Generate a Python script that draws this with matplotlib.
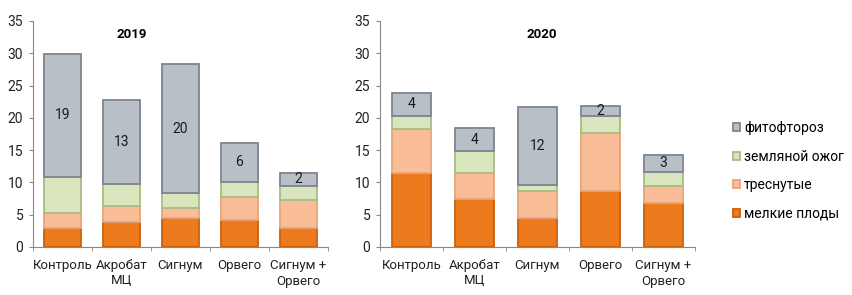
import matplotlib
matplotlib.use("Agg")
import matplotlib.pyplot as plt
import numpy as np

plt.rcParams['font.family'] = ['Roboto', 'DejaVu Sans']

categories = ["Контроль", "Акробат\nМЦ", "Сигнум", "Орвего", "Сигнум +\nОрвего"]
series_names = ["мелкие плоды", "треснутые", "земляной ожог", "фитофтороз"]

# 2019
small_2019 = [3.0, 3.8, 4.5, 4.2, 3.0]
cracked_2019 = [2.3, 2.5, 1.5, 3.6, 4.3]
burn_2019 = [5.6, 3.4, 2.3, 2.3, 2.2]
phyto_2019 = [19, 13, 20, 6, 2]

# 2020
small_2020 = [11.5, 7.4, 4.5, 8.6, 6.8]
cracked_2020 = [6.8, 4.1, 4.1, 9.1, 2.7]
burn_2020 = [2.0, 3.3, 1.0, 2.6, 2.1]
phyto_2020 = [3.6, 3.6, 12.1, 1.5, 2.7]

faces = ["#EE7A1E", "#F9BE98", "#D9E6BD", "#B9BFC7"]
edges = ["#C8600F", "#E8A57A", "#A9BC84", "#7E858E"]

fig = plt.figure(figsize=(8.53, 2.95), dpi=100)
W, H = 853, 295

def make_ax(x0, x1, y0, y1):
    return fig.add_axes([x0 / W, 1 - y1 / H, (x1 - x0) / W, (y1 - y0) / H])

ax1 = make_ax(33, 328, 21, 247)
ax2 = make_ax(380, 695, 21, 247)

def draw(ax, data, title, width, title_x):
    x = np.arange(len(categories))
    bottom = np.zeros(len(categories))
    for i, vals in enumerate(data):
        vals = np.array(vals, dtype=float)
        bars = ax.bar(x, vals, width, bottom=bottom, color=faces[i],
                      edgecolor=edges[i], linewidth=1.3, label=series_names[i], zorder=3)
        if i == 3:
            for b, v in zip(bars, vals):
                ax.text(b.get_x() + b.get_width() / 2, b.get_y() + b.get_height() / 2,
                        f"{v:.0f}", ha='center', va='center', fontsize=10, color='#1a1a1a', zorder=4)
        bottom += vals
    ax.set_xlim(-0.5, len(categories) - 0.5)
    ax.set_ylim(0, 35)
    ax.set_yticks(range(0, 36, 5))
    ax.set_xticks(x)
    ax.set_xticklabels(categories, fontsize=9.5, linespacing=1.2, color='#222222')
    ax.tick_params(axis='y', labelsize=10, length=3, color='#888888', pad=4, labelcolor='#222222')
    ax.tick_params(axis='x', length=0, pad=9)
    ax.set_xticks(np.arange(-0.5, len(categories)), minor=True)
    ax.tick_params(axis='x', which='minor', length=3, color='#888888')
    for s in ['top', 'right']:
        ax.spines[s].set_visible(False)
    for s in ['left', 'bottom']:
        ax.spines[s].set_color('#888888')
    ax.text(title_x, 0.94, title, transform=ax.transAxes,
            ha='center', va='center', fontsize=9.5, fontweight='bold')

draw(ax1, [small_2019, cracked_2019, burn_2019, phyto_2019], "2019", 0.62, 0.335)
draw(ax2, [small_2020, cracked_2020, burn_2020, phyto_2020], "2020", 0.61, 0.514)

handles, labels = ax2.get_legend_handles_labels()
fig.legend(handles[::-1], labels[::-1], loc='center left',
           bbox_to_anchor=(733 / W, 1 - 171 / H), frameon=False, fontsize=10,
           borderpad=0, borderaxespad=0,
           handlelength=0.5, handleheight=0.5, handletextpad=0.3, labelspacing=1.05)

fig.savefig("out.png", dpi=100)
